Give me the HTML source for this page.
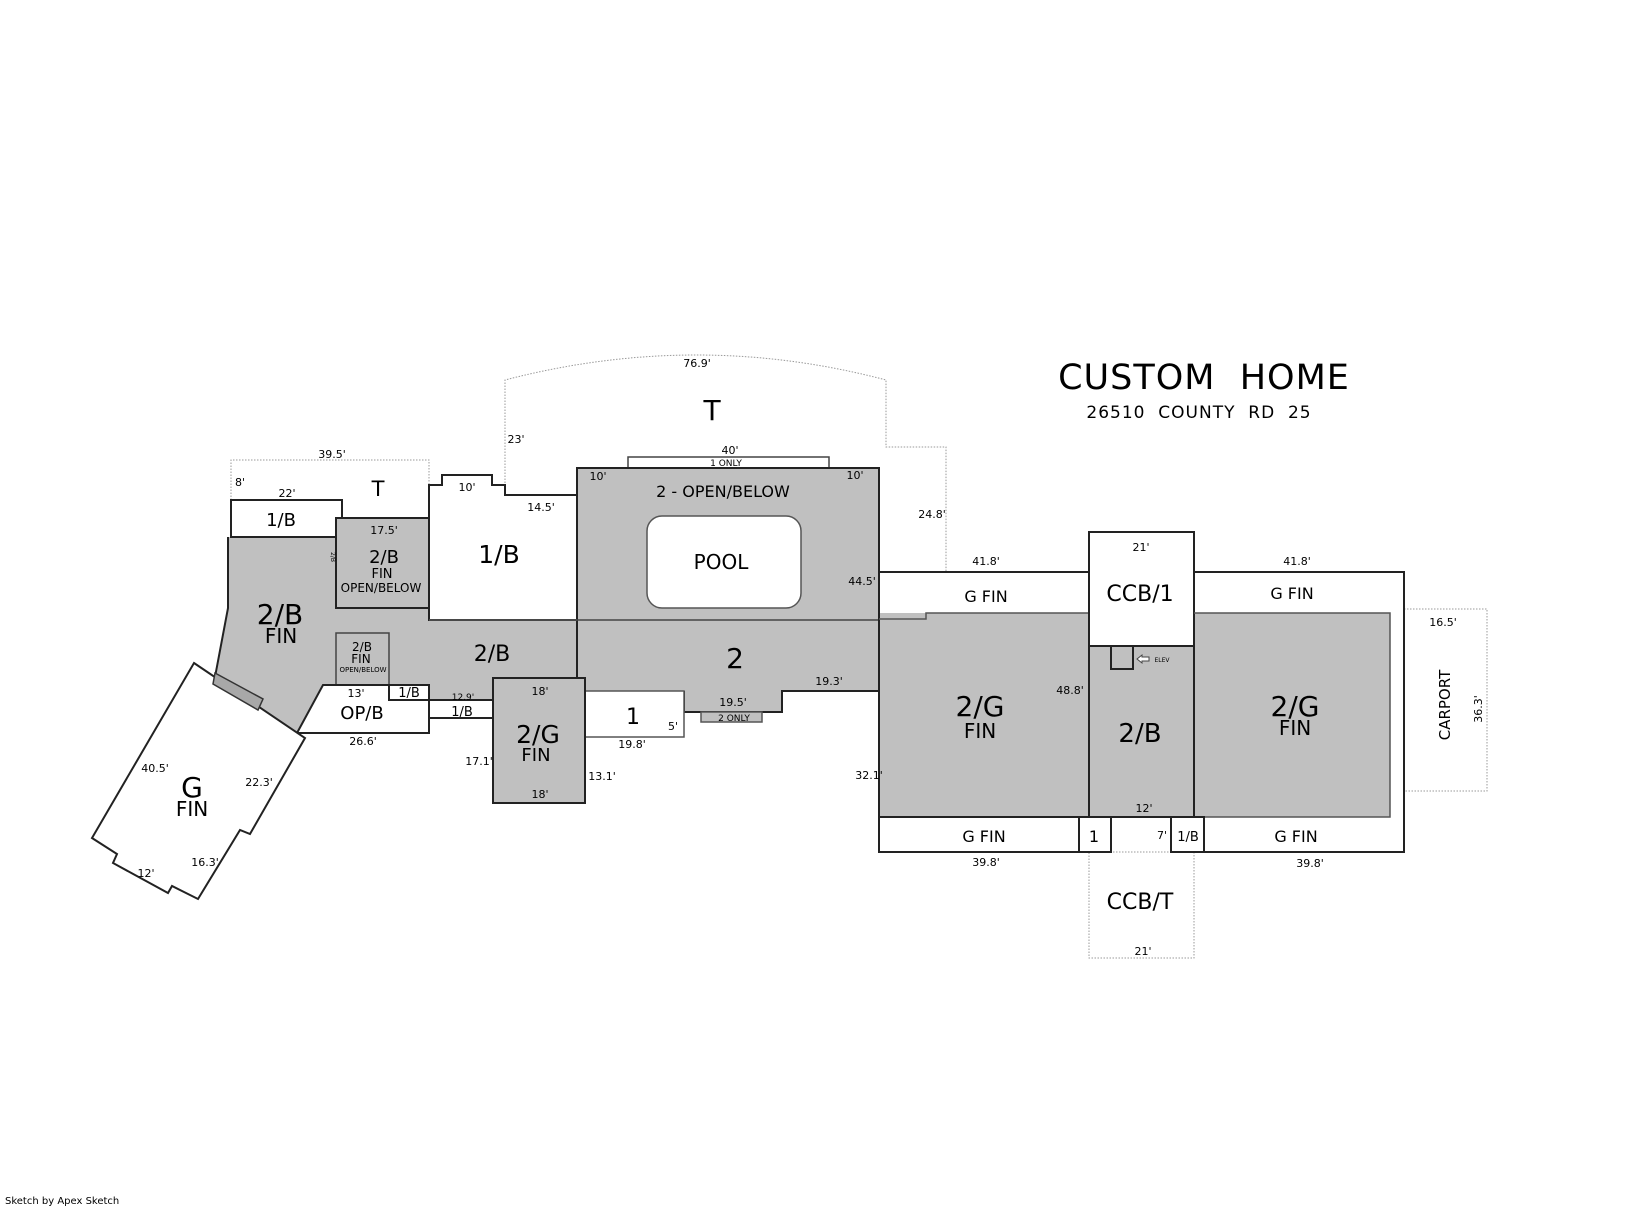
<!DOCTYPE html>
<html><head><meta charset="utf-8"><style>
html,body{margin:0;padding:0;background:#fff;}
svg{display:block;}
text{font-family:"DejaVu Sans","Liberation Sans",sans-serif;fill:#000;text-anchor:middle;}
</style></head><body>
<svg width="1647" height="1208" viewBox="0 0 1647 1208" xmlns="http://www.w3.org/2000/svg">
<rect width="1647" height="1208" fill="#fff"/>
<g fill="none" stroke="#999" stroke-width="1" stroke-dasharray="1.5,1.5">
<path d="M231,500 L231,460 L429,460 L429,485"/>
<path d="M505,495 L505,380 Q697,330 886,380 L886,447 L946,447 L946,572"/>
<rect x="1089" y="852" width="105" height="106"/>
<rect x="1404" y="609" width="83" height="182"/>
<path d="M231,544 L327,544"/>
<rect x="327" y="518" width="25" height="54"/>
<path d="M429,608 L429,685"/>
</g>
<g fill="#c0c0c0" stroke="none">
<polygon points="228,537 336,537 336,608 429,608 429,685 323,685 297,733 215,677 228,608"/>
<rect x="429" y="620" width="148" height="80"/>
<polygon points="577,468 879,468 879,691 782,691 782,712 684,712 684,691 585,691 585,700 577,700"/>
<rect x="879" y="613" width="210" height="204"/>
<rect x="1089" y="646" width="105" height="171"/>
<rect x="1194" y="613" width="196" height="204"/>
</g>
<polyline points="228,537 228,608 215,677" fill="none" stroke="#222" stroke-width="2"/>
<g stroke="#222" stroke-width="2" fill="#fff">
<rect x="231" y="500" width="111" height="37"/>
<polygon points="429,485 442,485 442,475 492,475 492,485 505,485 505,495 577,495 577,620 429,620"/>
<rect x="336" y="518" width="93" height="90" fill="#c0c0c0"/>
<rect x="336" y="633" width="53" height="52" fill="#c0c0c0" stroke="#444" stroke-width="1.5"/>
<polygon points="323,685 389,685 389,700 429,700 429,733 297,733"/>
<rect x="389" y="685" width="40" height="15"/>
<rect x="429" y="700" width="64" height="18"/>
<polygon points="194,663 305,738 250,834 240,830 198,899 172,886 168,893 113,863 117,854 92,838"/>
<polygon points="215,673 263,699 258,710 213,684" fill="#a8a8a8" stroke="#333" stroke-width="1.5"/>
<rect x="628" y="457" width="201" height="11" stroke="#444" stroke-width="1.5"/>
<path d="M577,700 L577,468 L879,468 L879,691 L782,691 L782,712 L684,712 L684,691" fill="none"/>
<line x1="577" y1="620" x2="879" y2="620" stroke="#444" stroke-width="1.5"/>
<rect x="647" y="516" width="154" height="92" rx="15" stroke="#555" stroke-width="1.5"/>
<rect x="585" y="691" width="99" height="46" stroke="#555" stroke-width="1.5"/>
<rect x="701" y="712" width="61" height="10" fill="#c0c0c0" stroke="#555" stroke-width="1.5"/>
<rect x="493" y="678" width="92" height="125" fill="#c0c0c0"/>
<line x1="429" y1="620" x2="577" y2="620" stroke="#555" stroke-width="1.5"/>
<path d="M879,572 L1089,572 L1089,852 L879,852 Z" fill="none"/>
<path d="M879,619 L926,619 L926,613 L1089,613" fill="none" stroke="#555" stroke-width="1.5"/>
<line x1="879" y1="817" x2="1089" y2="817"/>
<rect x="1089" y="532" width="105" height="114"/>
<rect x="1089" y="646" width="105" height="171" fill="none"/>
<rect x="1111" y="646" width="22" height="23" fill="none"/>
<path d="M1194,572 L1404,572 L1404,852 L1194,852 Z" fill="none"/>
<path d="M1194,613 L1390,613 L1390,817 L1194,817" fill="none" stroke="#555" stroke-width="1.5"/>
<rect x="1079" y="817" width="32" height="35"/>
<rect x="1171" y="817" width="33" height="35"/>
<line x1="1111" y1="817" x2="1171" y2="817"/>
</g>
<polygon points="1137,659 1142,655 1142,657 1149,657 1149,661 1142,661 1142,663" fill="#fff" stroke="#444" stroke-width="1"/>
<text x="1162" y="662" font-size="6">ELEV</text>
<text x="1204" y="389" font-size="35" style="letter-spacing:1px">CUSTOM&#160; HOME</text>
<text x="1199" y="418" font-size="17" style="letter-spacing:1px">26510&#160; COUNTY&#160; RD&#160; 25</text>
<text x="332" y="458" font-size="11">39.5'</text>
<text x="240" y="486" font-size="11">8'</text>
<text x="287" y="497" font-size="11">22'</text>
<text x="378" y="496" font-size="21">T</text>
<text x="281" y="526" font-size="18">1/B</text>
<text x="384" y="534" font-size="11">17.5'</text>
<text x="384" y="563" font-size="18">2/B</text>
<text x="382" y="578" font-size="13">FIN</text>
<text x="381" y="592" font-size="12">OPEN/BELOW</text>
<text x="331" y="557" font-size="6" transform="rotate(90 331 557)">2/B</text>
<text x="280" y="624" font-size="28">2/B</text>
<text x="281" y="643" font-size="20">FIN</text>
<text x="362" y="651" font-size="12">2/B</text>
<text x="361" y="663" font-size="12">FIN</text>
<text x="363" y="672" font-size="7">OPEN/BELOW</text>
<text x="356" y="697" font-size="11">13'</text>
<text x="409" y="697" font-size="13">1/B</text>
<text x="362" y="719" font-size="18">OP/B</text>
<text x="363" y="745" font-size="11">26.6'</text>
<text x="463" y="700" font-size="9">12.9'</text>
<text x="462" y="716" font-size="13">1/B</text>
<text x="499" y="563" font-size="25">1/B</text>
<text x="467" y="491" font-size="11">10'</text>
<text x="541" y="511" font-size="11">14.5'</text>
<text x="492" y="661" font-size="22">2/B</text>
<text x="540" y="695" font-size="11">18'</text>
<text x="538" y="743" font-size="25">2/G</text>
<text x="536" y="761" font-size="18">FIN</text>
<text x="540" y="798" font-size="11">18'</text>
<text x="479" y="765" font-size="11">17.1'</text>
<text x="602" y="780" font-size="11">13.1'</text>
<text x="155" y="772" font-size="11">40.5'</text>
<text x="192" y="797" font-size="28">G</text>
<text x="192" y="816" font-size="20">FIN</text>
<text x="259" y="786" font-size="11">22.3'</text>
<text x="205" y="866" font-size="11">16.3'</text>
<text x="146" y="877" font-size="11">12'</text>
<text x="697" y="367" font-size="11">76.9'</text>
<text x="712" y="420" font-size="28">T</text>
<text x="516" y="443" font-size="11">23'</text>
<text x="730" y="454" font-size="11">40'</text>
<text x="726" y="466" font-size="9">1 ONLY</text>
<text x="598" y="480" font-size="11">10'</text>
<text x="855" y="479" font-size="11">10'</text>
<text x="723" y="497" font-size="16">2 - OPEN/BELOW</text>
<text x="721" y="569" font-size="20">POOL</text>
<text x="862" y="585" font-size="11">44.5'</text>
<text x="932" y="518" font-size="11">24.8'</text>
<text x="735" y="668" font-size="28">2</text>
<text x="829" y="685" font-size="11">19.3'</text>
<text x="733" y="706" font-size="11">19.5'</text>
<text x="734" y="721" font-size="9">2 ONLY</text>
<text x="633" y="724" font-size="22">1</text>
<text x="673" y="730" font-size="11">5'</text>
<text x="632" y="748" font-size="11">19.8'</text>
<text x="869" y="779" font-size="11">32.1'</text>
<text x="986" y="565" font-size="11">41.8'</text>
<text x="986" y="602" font-size="16">G FIN</text>
<text x="1141" y="551" font-size="11">21'</text>
<text x="1140" y="601" font-size="22">CCB/1</text>
<text x="1297" y="565" font-size="11">41.8'</text>
<text x="1292" y="599" font-size="16">G FIN</text>
<text x="1443" y="626" font-size="11">16.5'</text>
<text x="1070" y="694" font-size="11">48.8'</text>
<text x="980" y="716" font-size="28">2/G</text>
<text x="980" y="738" font-size="20">FIN</text>
<text x="1140" y="742" font-size="26">2/B</text>
<text x="1295" y="716" font-size="28">2/G</text>
<text x="1295" y="735" font-size="20">FIN</text>
<text x="1450" y="705" font-size="15" transform="rotate(-90 1450 705)">CARPORT</text>
<text x="1482" y="709" font-size="11" transform="rotate(-90 1482 709)">36.3'</text>
<text x="1144" y="812" font-size="11">12'</text>
<text x="1094" y="842" font-size="16">1</text>
<text x="1162" y="839" font-size="11">7'</text>
<text x="1188" y="841" font-size="13">1/B</text>
<text x="984" y="842" font-size="16">G FIN</text>
<text x="1296" y="842" font-size="16">G FIN</text>
<text x="986" y="866" font-size="11">39.8'</text>
<text x="1310" y="867" font-size="11">39.8'</text>
<text x="1140" y="909" font-size="22">CCB/T</text>
<text x="1143" y="955" font-size="11">21'</text>
<text x="5" y="1204" font-size="10" style="text-anchor:start">Sketch by Apex Sketch</text>
</svg>
</body></html>
